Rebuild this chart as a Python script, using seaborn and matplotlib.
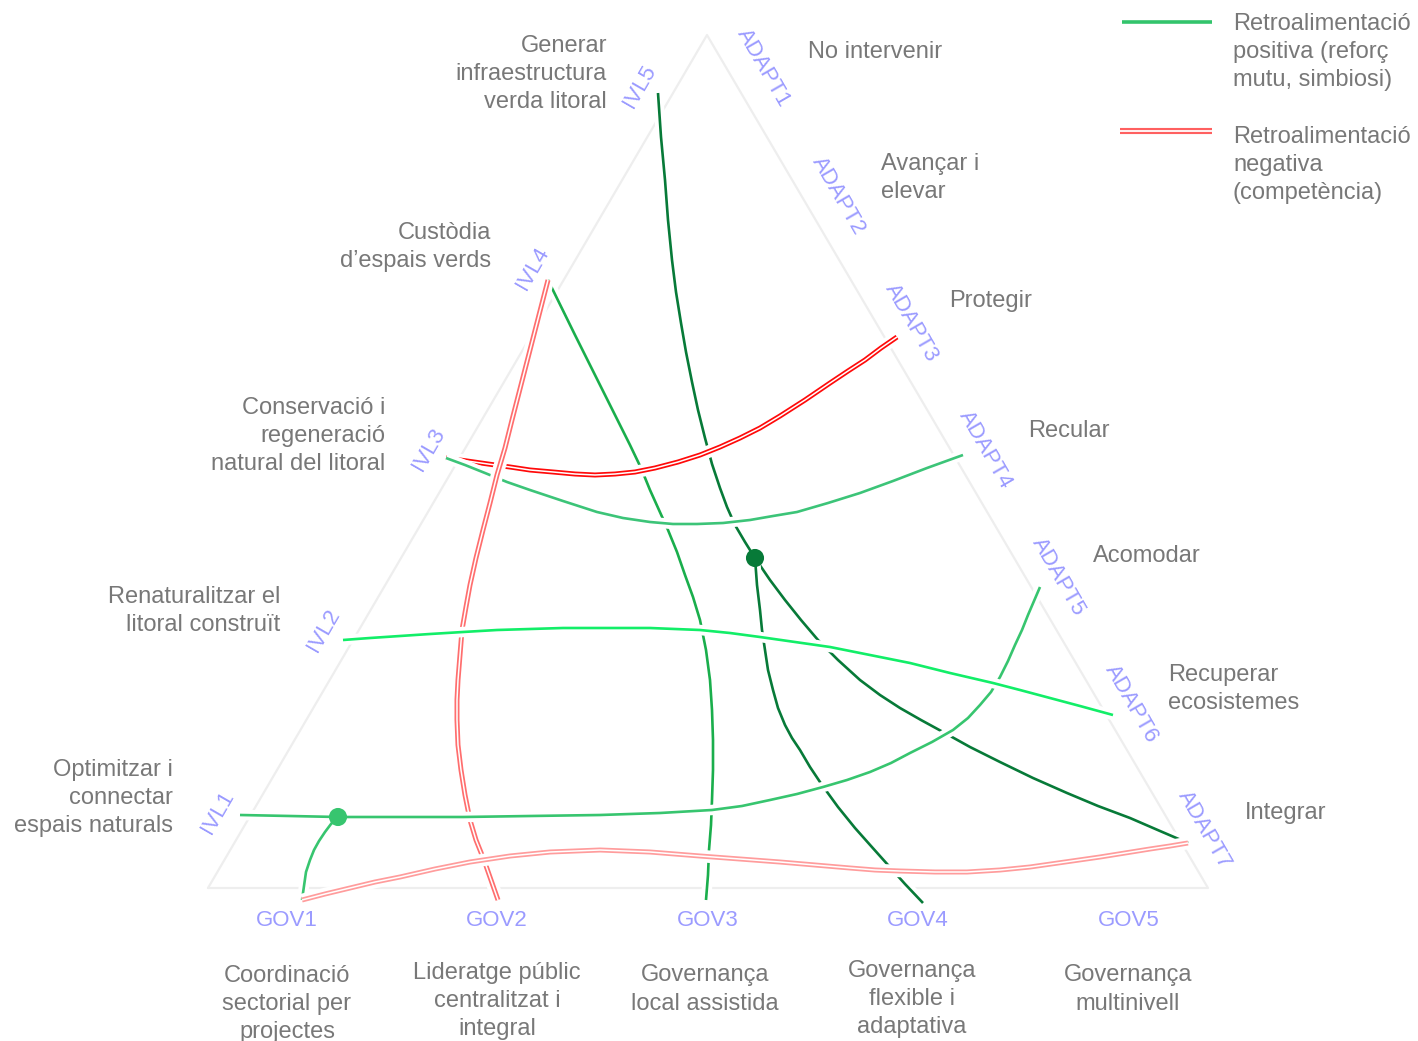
import matplotlib
matplotlib.use("Agg")
import matplotlib.pyplot as plt
import matplotlib.patheffects as pe
import pandas as pd
import seaborn as sns

# triangle frame (pixel space of the original picture)
triangle = [(208, 888), (1208, 888), (707, 35), (208, 888)]

# bottom axis: governance
gov_labels = ["GOV1", "GOV2", "GOV3", "GOV4", "GOV5"]
gov_pos = [(287, 921), (497, 921), (708, 921), (918, 921), (1129, 921)]
gov_names = ["Coordinació\nsectorial per\nprojectes", "Lideratge públic\ncentralitzat i\nintegral",
             "Governança\nlocal assistida", "Governança\nflexible i\nadaptativa", "Governança\nmultinivell"]
gov_name_pos = [(287, 975), (497, 972), (705, 975), (912, 970), (1128, 975)]

# left axis: green infrastructure
ivl_labels = ["IVL1", "IVL2", "IVL3", "IVL4", "IVL5"]
ivl_pos = [(218, 812), (324, 630), (429, 449), (533, 268), (640, 86)]
ivl_names = ["Optimitzar i\nconnectar\nespais naturals", "Renaturalitzar el\nlitoral construït",
             "Conservació i\nregeneració\nnatural del litoral", "Custòdia\nd’espais verds",
             "Generar\ninfraestructura\nverda litoral"]
ivl_name_pos = [(173, 798), (280, 611), (385, 436), (491, 247), (607, 74)]

# right axis: adaptation
adapt_labels = ["ADAPT1", "ADAPT2", "ADAPT3", "ADAPT4", "ADAPT5", "ADAPT6", "ADAPT7"]
adapt_pos = [(763, 68), (838, 196), (911, 323), (985, 450), (1058, 577), (1131, 704), (1204, 830)]
adapt_names = ["No intervenir", "Avançar i\nelevar", "Protegir", "Recular", "Acomodar",
               "Recuperar\necosistemes", "Integrar"]
adapt_name_pos = [(808, 52), (881, 178), (949, 301), (1028, 431), (1093, 556), (1168, 689), (1245, 813)]

# relationship curves
ivl5_node = [(658, 93), (661, 137), (665, 180), (668, 220), (672, 260), (676, 292), (681, 323),
             (686, 352), (692, 382), (698, 410), (705, 438), (712, 464), (720, 488), (727, 507),
             (735, 525), (745, 542), (755, 558)]
node_adapt7 = [(755, 558), (770, 580), (785, 600), (801, 620), (818, 640), (838, 660), (860, 680),
               (880, 695), (900, 708), (921, 720), (943, 732), (970, 747), (1000, 762), (1033, 778),
               (1067, 793), (1098, 806), (1130, 818), (1160, 831), (1188, 843)]
node_gov4 = [(755, 558), (757, 585), (760, 610), (762, 630), (765, 650), (768, 670), (773, 690),
             (778, 708), (785, 725), (792, 738), (800, 750), (810, 767), (822, 785), (838, 807),
             (855, 828), (871, 846), (888, 865), (905, 884), (923, 903)]
ivl4_gov3 = [(548, 280), (575, 335), (605, 395), (630, 445), (641, 468), (650, 490), (659, 510),
             (668, 530), (677, 552), (685, 575), (693, 597), (700, 620), (706, 650), (710, 680),
             (712, 710), (713, 740), (713, 770), (712, 800), (711, 825), (709, 850), (708, 875),
             (706, 900)]
ivl3_adapt3 = [(446, 458), (467, 461), (488, 464), (510, 467), (530, 470), (553, 472), (575, 474),
               (595, 475), (615, 474), (635, 472), (655, 468), (678, 462), (700, 455), (720, 447),
               (740, 438), (760, 428), (780, 416), (805, 400), (830, 383), (848, 371), (865, 360),
               (881, 348), (897, 337)]
ivl3_adapt4 = [(446, 458), (465, 465), (485, 473), (507, 482), (530, 490), (563, 501), (597, 512),
               (623, 518), (650, 522), (673, 524), (697, 524), (723, 523), (750, 520), (773, 516),
               (797, 512), (828, 503), (860, 493), (893, 481), (927, 468), (963, 455)]
ivl4_gov2 = [(548, 280), (539, 315), (530, 350), (521, 385), (512, 420), (505, 448), (497, 475),
             (490, 503), (483, 530), (476, 558), (470, 585), (466, 607), (462, 630), (460, 655),
             (458, 680), (457, 700), (457, 720), (458, 745), (461, 770), (465, 795), (470, 820),
             (476, 840), (484, 860), (491, 880), (498, 900)]
ivl1_adapt5 = [(240, 815), (290, 816), (338, 817), (400, 817), (463, 817), (530, 816), (600, 815),
               (660, 813), (712, 810), (742, 806), (770, 800), (797, 794), (823, 787), (847, 780),
               (870, 772), (891, 763), (910, 753), (932, 742), (953, 730), (968, 718), (980, 705),
               (991, 692), (1000, 677), (1008, 661), (1015, 645), (1022, 630), (1028, 615),
               (1034, 601), (1040, 587)]
node_gov1 = [(338, 817), (331, 824), (325, 832), (319, 841), (314, 850), (310, 860), (306, 872),
             (304, 886), (302, 900)]
gov1_adapt7 = [(302, 900), (325, 894), (350, 888), (375, 882), (400, 877), (435, 869), (470, 862),
               (510, 856), (550, 852), (575, 851), (600, 850), (625, 851), (650, 852), (675, 854),
               (700, 856), (740, 859), (780, 862), (815, 865), (850, 868), (875, 870), (900, 871),
               (935, 872), (967, 872), (1000, 870), (1030, 867), (1065, 862), (1100, 857),
               (1125, 853), (1150, 849), (1170, 846), (1188, 843)]
ivl2_adapt6 = [(343, 640), (370, 638), (400, 636), (430, 634), (463, 632), (497, 630), (530, 629),
               (563, 628), (597, 628), (623, 628), (650, 628), (675, 629), (700, 630), (730, 633),
               (760, 637), (795, 642), (830, 647), (870, 655), (910, 663), (950, 673), (993, 683),
               (1020, 690), (1050, 698), (1080, 706), (1113, 715)]

nodes = pd.DataFrame({"x": [755, 338], "y": [558, 817], "kind": ["dark", "light"]})

GREY = "#787878"
BLUE = "#9b9bff"
DARK = "#077a38"

sns.set_theme(style="white")
plt.rcParams["font.family"] = ["Liberation Sans", "DejaVu Sans"]

fig = plt.figure(figsize=(14.18, 10.41), dpi=100)
ax = fig.add_axes([0, 0, 1, 1])
ax.set_xlim(0, 1418)
ax.set_ylim(1041, 0)
ax.axis("off")


def curve(pts, color, double=False):
    df = pd.DataFrame(pts, columns=["x", "y"])
    if double:
        fx = [pe.Stroke(linewidth=9, foreground="white"), pe.Normal(),
              pe.Stroke(linewidth=1.1, foreground="white")]
        lw = 3.6
    else:
        fx = [pe.Stroke(linewidth=7.5, foreground="white"), pe.Normal()]
        lw = 1.9
    sns.lineplot(data=df, x="x", y="y", sort=False, estimator=None, color=color,
                 lw=lw, ax=ax, path_effects=fx, solid_capstyle="butt", solid_joinstyle="round")


tri = pd.DataFrame(triangle, columns=["x", "y"])
sns.lineplot(data=tri, x="x", y="y", sort=False, estimator=None, color="#eeeeee", lw=1.6, ax=ax)

# drawing order sets which line is interrupted at crossings
curve(ivl5_node, DARK)
curve(node_adapt7, DARK)
curve(node_gov4, DARK)
curve(ivl4_gov3, "#1aae4c")
curve(ivl3_adapt3, "#ff0a0a", double=True)
curve(ivl3_adapt4, "#3cc478")
curve(ivl4_gov2, "#ff6e6e", double=True)
curve(ivl1_adapt5, "#37c56f")
curve(node_gov1, "#37c56f")
curve(gov1_adapt7, "#ff9c9c", double=True)
curve(ivl2_adapt6, "#12ee68")

sns.scatterplot(data=nodes, x="x", y="y", hue="kind", palette={"dark": DARK, "light": "#37c56f"},
                s=170, edgecolor="none", legend=False, ax=ax, zorder=5)

fs = 17
ls = 1.38
for lab, (x, y) in zip(gov_labels, gov_pos):
    ax.text(x, y, lab, color=BLUE, fontsize=16, ha="center", va="center")
for name, (x, y) in zip(gov_names, gov_name_pos):
    n = name.count("\n")
    ax.text(x, y + n * 14.5, name, color=GREY, fontsize=fs, ha="center", va="center",
            linespacing=ls)

for lab, (x, y) in zip(ivl_labels, ivl_pos):
    ax.text(x, y, lab, color=BLUE, fontsize=16, ha="center", va="center", rotation=60,
            rotation_mode="anchor")
for name, (x, y) in zip(ivl_names, ivl_name_pos):
    ax.text(x, y, name, color=GREY, fontsize=fs, ha="right", va="center", multialignment="right",
            linespacing=ls)

for lab, (x, y) in zip(adapt_labels, adapt_pos):
    ax.text(x, y, lab, color=BLUE, fontsize=16, ha="center", va="center", rotation=-60,
            rotation_mode="anchor")
for name, (x, y) in zip(adapt_names, adapt_name_pos):
    ax.text(x, y, name, color=GREY, fontsize=fs, ha="left", va="center", linespacing=ls)

# legend
pos_key = pd.DataFrame({"x": [1122, 1212], "y": [22, 22]})
neg_key = pd.DataFrame({"x": [1120, 1212], "y": [131, 131]})
sns.lineplot(data=pos_key, x="x", y="y", color="#33c46c", lw=2.6, ax=ax, solid_capstyle="butt")
sns.lineplot(data=neg_key, x="x", y="y", color="#ff6060", lw=4.4, ax=ax, solid_capstyle="butt",
             path_effects=[pe.Normal(), pe.Stroke(linewidth=1.3, foreground="white")])
ax.text(1233, 52, "Retroalimentació\npositiva (reforç\nmutu, simbiosi)", color=GREY, fontsize=fs,
        ha="left", va="center", linespacing=ls)
ax.text(1233, 165, "Retroalimentació\nnegativa\n(competència)", color=GREY, fontsize=fs,
        ha="left", va="center", linespacing=ls)

fig.savefig("out.png", dpi=100)
